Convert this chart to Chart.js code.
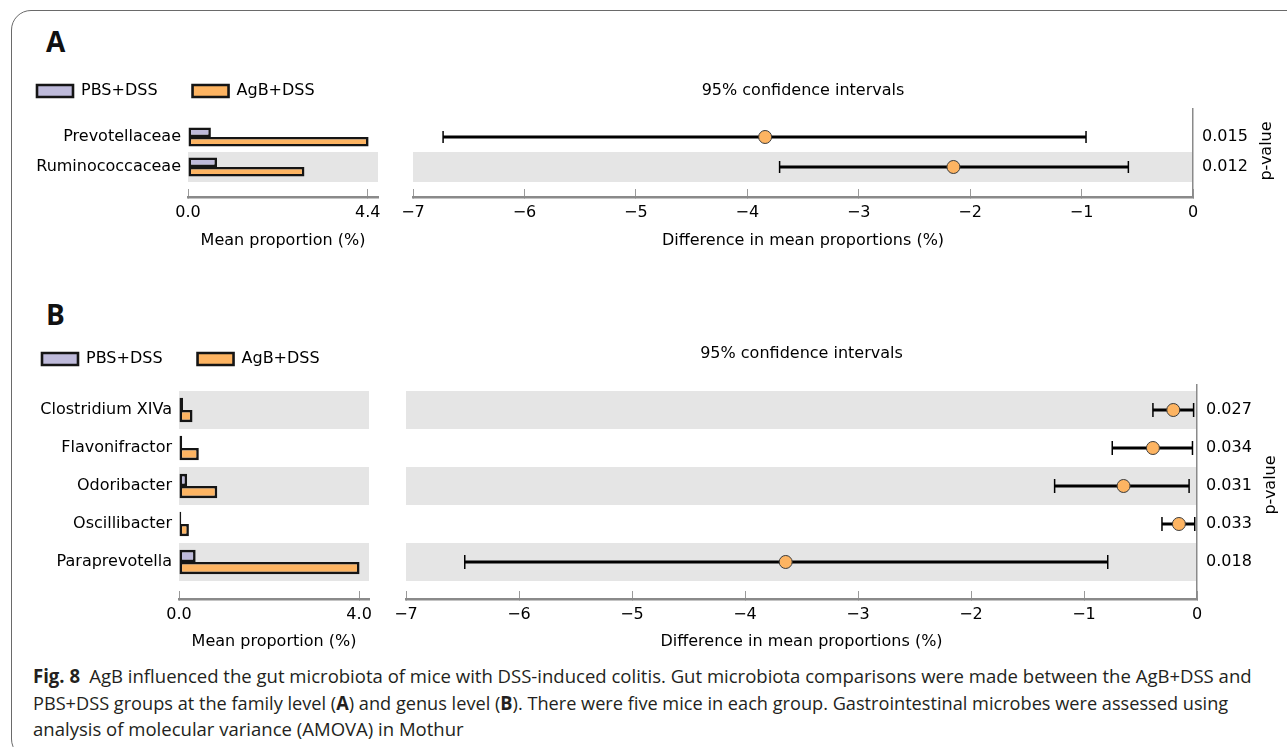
<!DOCTYPE html>
<html>
<head>
<meta charset="utf-8">
<script src="https://cdn.jsdelivr.net/npm/chart.js@4.4.0/dist/chart.umd.min.js"></script>
<style>
html, body { margin:0; padding:0; background:#fff; width:1287px; height:747px; overflow:hidden; position:relative; }
.frame { position:absolute; left:11px; top:10px; width:1400px; height:749px; border:1.5px solid #6a6a6a; border-radius:20px; box-sizing:border-box; }
canvas { position:absolute; }
.panel { position:absolute; font-family:'Open Sans', sans-serif; font-weight:700; font-size:28px; line-height:28px; color:#111; }
.pv { position:absolute; font-family:'DejaVu Sans', sans-serif; font-size:16px; line-height:16px; color:#000; white-space:nowrap; transform:translate(-50%,-50%) rotate(-90deg); }
.cl { position:absolute; left:33px; white-space:nowrap; transform-origin:0 0; font-family:'Open Sans', sans-serif; font-size:19px; line-height:26.5px; color:#231f20; }
.cl b { font-weight:700; }
</style>
</head>
<body>
<div class="frame"></div>
<div class="panel" style="left:46px; top:27px;">A</div>
<div class="panel" style="left:46px; top:300px;">B</div>

<canvas id="barA" width="400" height="207" style="left:0px; top:48px;"></canvas>
<canvas id="ciA" width="917" height="207" style="left:370px; top:48px;"></canvas>
<canvas id="barB" width="400" height="341" style="left:0px; top:316px;"></canvas>
<canvas id="ciB" width="917" height="341" style="left:370px; top:316px;"></canvas>

<div class="pv" style="left:1266px; top:151px;">p-value</div>
<div class="pv" style="left:1270px; top:485px;">p-value</div>

<div class="cl" id="cl1" style="top:663px;"><b>Fig. 8</b>&ensp;AgB influenced the gut microbiota of mice with DSS-induced colitis. Gut microbiota comparisons were made between the AgB+DSS and</div>
<div class="cl" id="cl2" style="top:689.5px;">PBS+DSS groups at the family level (<b>A</b>) and genus level (<b>B</b>). There were five mice in each group. Gastrointestinal microbes were assessed using</div>
<div class="cl" id="cl3" style="top:716px;">analysis of molecular variance (AMOVA) in Mothur</div>

<script>
// ---------- data: panel A (family level) ----------
const familyNames = ['Prevotellaceae', 'Ruminococcaceae'];
const familyPBS   = [0.56, 0.71];
const familyAgB   = [4.42, 2.85];
const familyDiff  = [-3.84, -2.15];
const familyLow   = [-6.73, -3.71];
const familyHigh  = [-0.96, -0.58];
const familyP     = ['0.015', '0.012'];
const familyBarTicks = [0, 4.4];

// ---------- data: panel B (genus level) ----------
const genusNames = ['Clostridium XIVa', 'Flavonifractor', 'Odoribacter', 'Oscillibacter', 'Paraprevotella'];
const genusPBS   = [0.09, 0.07, 0.18, 0.05, 0.37];
const genusAgB   = [0.30, 0.44, 0.85, 0.22, 4.01];
const genusDiff  = [-0.21, -0.39, -0.65, -0.16, -3.64];
const genusLow   = [-0.39, -0.75, -1.26, -0.31, -6.48];
const genusHigh  = [-0.03, -0.04, -0.07, -0.02, -0.79];
const genusP     = ['0.027', '0.034', '0.031', '0.033', '0.018'];
const genusBarTicks = [0, 4.0];

const diffTicks = [-7, -6, -5, -4, -3, -2, -1, 0];
const groupLabels = ['PBS+DSS', 'AgB+DSS'];

// ---------- styles ----------
Chart.defaults.font.family = "'DejaVu Sans', sans-serif";
Chart.defaults.font.size = 16;
Chart.defaults.color = '#000';
const PBS_COLOR = '#bebada';
const AGB_COLOR = '#fdb462';
const EDGE = '#151515';
const BAND = '#e5e5e5';
const SPINE = '#8a8a8a';
const TICK = '#9a9a9a';

function bandPlugin(n) {
  return {
    id: 'bands',
    beforeDraw(chart) {
      const { ctx, chartArea: a, scales: { y } } = chart;
      ctx.save();
      ctx.fillStyle = BAND;
      for (let i = 0; i < n; i++) {
        if ((n - 1 - i) % 2 !== 0) continue;
        const p0 = y.getPixelForValue(i - 0.5), p1 = y.getPixelForValue(i + 0.5);
        ctx.fillRect(a.left, Math.min(p0, p1), a.right - a.left, Math.abs(p1 - p0));
      }
      ctx.restore();
    }
  };
}

function barChart(id, o) {
  const mk = (vals, label, color) => ({
    label, data: vals.map((v, i) => ({ x: v, y: i })),
    backgroundColor: color, borderColor: EDGE, borderWidth: 2.6, borderSkipped: false,
    categoryPercentage: 0.64, barPercentage: 1
  });
  return new Chart(document.getElementById(id), {
    type: 'bar',
    data: { datasets: [mk(o.pbs, groupLabels[0], PBS_COLOR), mk(o.agb, groupLabels[1], AGB_COLOR)] },
    options: {
      indexAxis: 'y', responsive: false, animation: false, devicePixelRatio: 1,
      layout: { padding: o.pad },
      plugins: {
        tooltip: { enabled: false },
        legend: {
          display: true, position: 'top', align: 'start',
          labels: { boxWidth: 36, boxHeight: 12, padding: 35, color: '#000', font: { size: 16 } }
        }
      },
      scales: {
        x: {
          type: 'linear', position: 'bottom', min: 0, max: o.xMax,
          afterBuildTicks: s => { s.ticks = o.ticks.map(v => ({ value: v })); },
          ticks: { callback: v => Number(v).toFixed(1), padding: o.tickPad, autoSkip: false, maxRotation: 0, color: '#000' },
          grid: { drawOnChartArea: false, drawTicks: true, tickLength: -8, color: TICK, lineWidth: 1 },
          border: { display: true, color: SPINE, width: 2.5 },
          title: { display: true, text: 'Mean proportion (%)', color: '#000', font: { size: 16 }, padding: { top: 0, bottom: o.titlePad } },
          afterFit: s => { s.height = 58; }
        },
        y: {
          type: 'linear', position: 'left', reverse: true, offset: false, min: o.yMin, max: o.yMax,
          afterBuildTicks: s => { s.ticks = o.names.map((_, i) => ({ value: i })); },
          ticks: { callback: (v, i) => o.names[i], padding: 7, autoSkip: false, color: '#000' },
          grid: { display: false, drawTicks: false, offset: false },
          border: { display: false },
          afterFit: s => { s.width = o.yWidth; }
        }
      }
    },
    plugins: [bandPlugin(o.names.length)]
  });
}

function ciChart(id, o) {
  const err = [];
  o.low.forEach((lo, i) => { err.push({ x: lo, y: i }, { x: o.high[i], y: i }, { x: null, y: null }); });
  return new Chart(document.getElementById(id), {
    type: 'scatter',
    data: {
      datasets: [
        { data: o.diff.map((v, i) => ({ x: v, y: i })), order: 0, clip: false,
          pointRadius: 6.5, pointBackgroundColor: AGB_COLOR, pointBorderColor: '#3a3a3a', pointBorderWidth: 1 },
        { data: err, order: 1, clip: false, showLine: true, borderColor: '#000', borderWidth: 2.8,
          pointStyle: 'line', pointRotation: 90, pointRadius: o.capR, pointBorderColor: '#000', pointBorderWidth: 1.5 }
      ]
    },
    options: {
      responsive: false, animation: false, devicePixelRatio: 1,
      layout: { padding: { left: o.padLeft, right: 0, top: 0, bottom: 0 } },
      plugins: {
        tooltip: { enabled: false },
        legend: { display: false },
        title: { display: true, text: '95% confidence intervals', color: '#000', fullSize: false,
                 font: { size: 16, weight: 'normal' }, padding: { top: o.titleTop, bottom: o.titleBottom } }
      },
      scales: {
        x: {
          type: 'linear', position: 'bottom', min: -7, max: 0,
          afterBuildTicks: s => { s.ticks = diffTicks.map(v => ({ value: v })); },
          ticks: { callback: v => (v < 0 ? '\u2212' + Math.abs(v) : String(v)), padding: o.tickPad, autoSkip: false, maxRotation: 0, color: '#000' },
          grid: { drawOnChartArea: false, drawTicks: true, tickLength: -8, color: TICK, lineWidth: 1 },
          border: { display: true, color: SPINE, width: 2.5 },
          title: { display: true, text: 'Difference in mean proportions (%)', color: '#000', font: { size: 16 }, padding: { top: 0, bottom: o.titlePad } },
          afterFit: s => { s.height = 58; }
        },
        y: {
          type: 'linear', position: 'right', reverse: true, offset: false, min: o.yMin, max: o.yMax,
          afterBuildTicks: s => { s.ticks = o.p.map((_, i) => ({ value: i })); },
          ticks: { callback: (v, i) => o.p[i], padding: 9, autoSkip: false, color: '#000' },
          grid: { display: false, drawTicks: false },
          border: { display: true, dash: [6, 4], color: '#8a8a8a', width: 1.5 },
          afterFit: s => { s.width = o.rightW; }
        }
      }
    },
    plugins: [bandPlugin(o.p.length)]
  });
}

barChart('barA', {
  names: familyNames, pbs: familyPBS, agb: familyAgB, ticks: familyBarTicks,
  xMax: 4.65, yMin: -0.933, yMax: 2.0, pad: { left: 2, right: 22, top: 0, bottom: 0 },
  yWidth: 186, tickPad: 14.4, titlePad: 4.4
});
ciChart('ciA', {
  diff: familyDiff, low: familyLow, high: familyHigh, p: familyP,
  yMin: -0.933, yMax: 2.0, padLeft: 43, rightW: 94, capR: 6,
  titleTop: 33.4, titleBottom: 8.4, tickPad: 14.4, titlePad: 4.4
});
barChart('barB', {
  names: genusNames, pbs: genusPBS, agb: genusAgB, ticks: genusBarTicks,
  xMax: 4.22, yMin: -0.868, yMax: 4.974, pad: { left: 7, right: 31, top: 0, bottom: 0 },
  yWidth: 172, tickPad: 14.4, titlePad: 5.4
});
ciChart('ciB', {
  diff: genusDiff, low: genusLow, high: genusHigh, p: genusP,
  yMin: -0.658, yMax: 4.974, padLeft: 36, rightW: 90, capR: 7,
  titleTop: 28.4, titleBottom: 21.4, tickPad: 14.4, titlePad: 5.4
});

// caption fitting (each line to the measured width of the reference)
function fitCaption() {
  const l1 = document.getElementById('cl1'), l2 = document.getElementById('cl2'), l3 = document.getElementById('cl3');
  [l1, l2, l3].forEach(el => { el.style.transform = 'none'; });
  const k1 = 1219 / l1.offsetWidth;
  const k2 = 1195 / l2.offsetWidth;
  l1.style.transform = 'scaleX(' + k1 + ')';
  l2.style.transform = 'scaleX(' + k2 + ')';
  l3.style.transform = 'scaleX(' + k1 + ')';
}
fitCaption();
if (document.fonts && document.fonts.ready) document.fonts.ready.then(fitCaption);
</script>
</body>
</html>
